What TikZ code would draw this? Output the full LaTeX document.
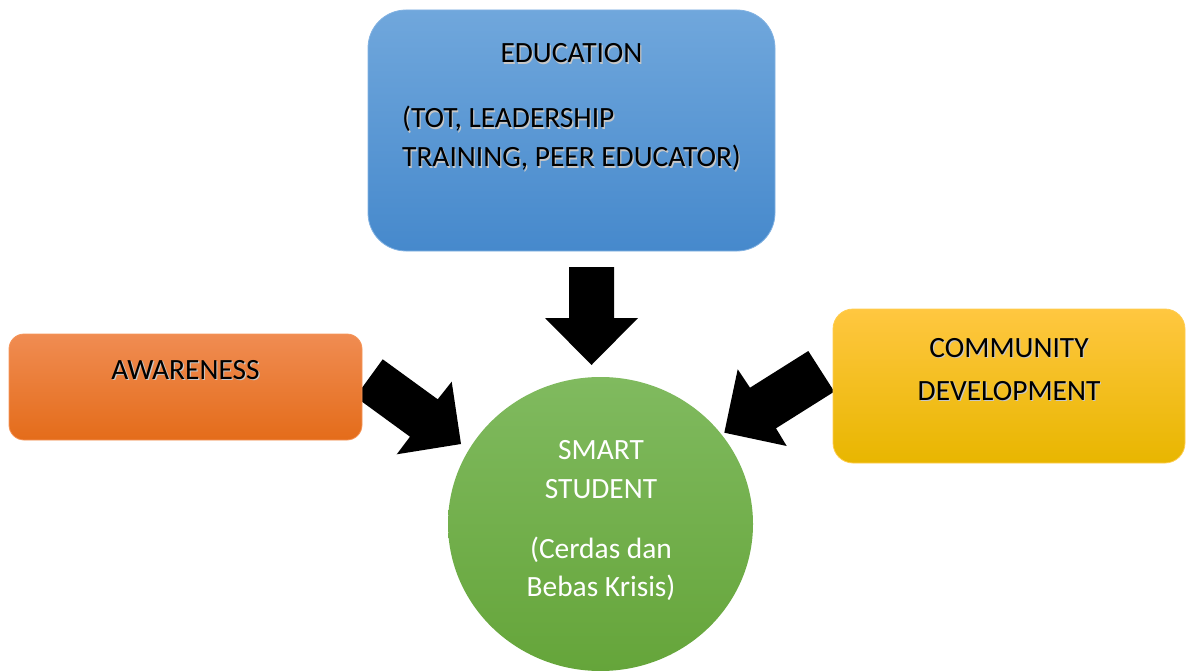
\documentclass[tikz,border=0pt]{standalone}
\usepackage{fontspec}
\setmainfont{Carlito}
\usetikzlibrary{shapes.geometric}
\definecolor{bluetop}{RGB}{112,167,220}
\definecolor{bluebot}{RGB}{70,137,204}
\definecolor{blueedge}{RGB}{130,178,226}
\definecolor{orgtop}{RGB}{240,140,82}
\definecolor{orgmid}{RGB}{244,124,40}
\definecolor{orgbot}{RGB}{228,108,26}
\definecolor{orgedge}{RGB}{246,150,90}
\definecolor{yeltop}{RGB}{255,199,64}
\definecolor{yelmid}{RGB}{255,192,0}
\definecolor{yelbot}{RGB}{232,182,0}
\definecolor{yeledge}{RGB}{255,205,80}
\definecolor{grntop}{RGB}{128,186,95}
\definecolor{grnbot}{RGB}{101,165,58}
\newcommand\shd[1]{\makebox[0pt][l]{\kern1.2pt\raisebox{-1.2pt}{\textcolor{black!22}{#1}}}#1}
\begin{document}
\begin{tikzpicture}[x=1pt,y=-1pt,
  boxshape/.style={rectangle, inner sep=0pt, line width=0.8pt},
  lbl/.style={inner sep=0pt, anchor=base, font=\fontsize{29.4}{35}\selectfont},
  lblw/.style={lbl, anchor=base west},
  blockarrow/.style={fill=black}]
\useasboundingbox (0,0) rectangle (1193,671);

% block arrows (drawn first, boxes overlap their tails)
\coordinate (la1) at (355.4,396.9);
\coordinate (la2) at (382.7,359.3);
\coordinate (la3) at (437.7,399.3);
\coordinate (la4) at (451.7,381.7);
\coordinate (la5) at (461,444);
\coordinate (la6) at (396.7,454.3);
\coordinate (la7) at (410,436.7);
\fill[blockarrow] (la1) -- (la2) -- (la3) -- (la4) -- (la5) -- (la6) -- (la7) -- cycle;

\coordinate (ra1) at (834.3,391.6);
\coordinate (ra2) at (808.3,351);
\coordinate (ra3) at (750,387.7);
\coordinate (ra4) at (737.7,369.3);
\coordinate (ra5) at (724.3,432.7);
\coordinate (ra6) at (786.7,446);
\coordinate (ra7) at (776,428.3);
\fill[blockarrow] (ra1) -- (ra2) -- (ra3) -- (ra4) -- (ra5) -- (ra6) -- (ra7) -- cycle;

\coordinate (da1) at (569,267);
\coordinate (da2) at (614,267);
\coordinate (da3) at (614,318);
\coordinate (da4) at (638,318);
\coordinate (da5) at (591.5,365);
\coordinate (da6) at (545,318);
\coordinate (da7) at (569,318);
\fill[blockarrow] (da1) -- (da2) -- (da3) -- (da4) -- (da5) -- (da6) -- (da7) -- cycle;

% boxes
\node[boxshape, draw=blueedge, top color=bluetop, bottom color=bluebot,
  minimum width=407pt, minimum height=241pt, rounded corners=38pt] (edu) at (571.5,130.5) {};
\node[boxshape, draw=orgedge, top color=orgtop, middle color=orgmid, bottom color=orgbot,
  minimum width=353pt, minimum height=106pt, rounded corners=15pt] (aware) at (185.5,387) {};
\node[boxshape, draw=yeledge, top color=yeltop, middle color=yelmid, bottom color=yelbot,
  minimum width=352pt, minimum height=154pt, rounded corners=20pt] (comm) at (1009,386) {};
\node[ellipse, inner sep=0pt, top color=grntop, bottom color=grnbot,
  minimum width=305pt, minimum height=294pt] (smart) at (600.5,524) {};

% labels
\node[lbl] (eduT) at (571.5,63) {\shd{EDUCATION}};
\node[lblw] (eduA) at (402,128) {\shd{(TOT, LEADERSHIP}};
\node[lblw] (eduB) at (402,167) {\shd{TRAINING, PEER EDUCATOR)}};
\node[lbl] (awT) at (185.5,379) {\shd{AWARENESS}};
\node[lbl] (cmA) at (1009,357) {\shd{COMMUNITY}};
\node[lbl] (cmB) at (1009,400) {\shd{DEVELOPMENT}};
\node[lbl, text=white] (smA) at (601,459) {SMART};
\node[lbl, text=white] (smB) at (601,498) {STUDENT};
\node[lbl, text=white] (smC) at (601,558) {(Cerdas dan};
\node[lbl, text=white] (smD) at (601,596) {Bebas Krisis)};
\end{tikzpicture}
\end{document}
